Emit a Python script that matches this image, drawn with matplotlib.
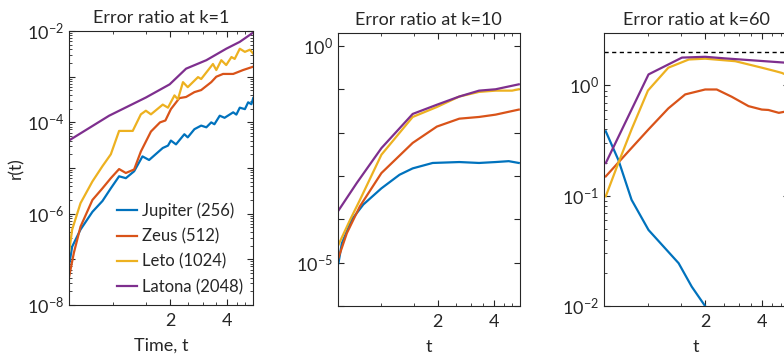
import numpy as np
import matplotlib
matplotlib.use('Agg')
import matplotlib.pyplot as plt
from matplotlib.ticker import FixedLocator, FuncFormatter, NullFormatter

plt.rcParams['font.family'] = ['Lato', 'DejaVu Sans']
plt.rcParams['mathtext.fontset'] = 'custom'
plt.rcParams['mathtext.rm'] = 'Lato'
plt.rcParams['mathtext.it'] = 'Lato:italic'
plt.rcParams['mathtext.bf'] = 'Lato:bold'

names = ['Jupiter (256)', 'Zeus (512)', 'Leto (1024)', 'Latona (2048)']
colors = ['#0072BD', '#D95319', '#EDB120', '#7E2F8E']

# k=1
t1_jup = [0.584, 0.608, 0.673, 0.778, 0.879, 0.973, 1.076, 1.168, 1.292, 1.43, 1.55, 1.83, 1.95, 2.02, 2.15,
          2.38, 2.48, 2.69, 2.92, 3.11, 3.30, 3.43, 3.66, 3.88, 4.31, 4.48, 4.67, 4.97, 5.17, 5.38, 5.5]
r1_jup = [6.9e-8, 1.9e-7, 4.5e-7, 1.1e-6, 1.9e-6, 3.6e-6, 6.6e-6, 6.0e-6, 8.5e-6, 1.8e-5, 1.5e-5, 2.75e-5, 3.1e-5,
          4.0e-5, 3.3e-5, 5.5e-5, 4.7e-5, 7.1e-5, 8.5e-5, 7.8e-5, 1.0e-4, 9.1e-5, 1.4e-4, 1.26e-4, 1.66e-4,
          1.48e-4, 2.1e-4, 1.95e-4, 2.75e-4, 2.5e-4, 3.4e-4]
t1_zeus = [0.584, 0.621, 0.673, 0.778, 0.879, 0.973, 1.076, 1.168, 1.292, 1.402, 1.585, 1.77, 1.89, 2.02, 2.24,
           2.43, 2.69, 2.92, 3.30, 3.51, 3.81, 4.31, 4.86, 5.5]
r1_zeus = [3.9e-8, 1.4e-7, 5.2e-7, 2.0e-6, 3.6e-6, 6.0e-6, 9.5e-6, 7.8e-6, 9.3e-6, 2.3e-5, 6.3e-5, 1.0e-4, 1.1e-4,
           1.95e-4, 3.4e-4, 3.6e-4, 4.6e-4, 5.1e-4, 7.6e-4, 1.0e-3, 1.15e-3, 1.15e-3, 1.4e-3, 1.66e-3]
t1_leto = [0.584, 0.608, 0.673, 0.778, 0.879, 0.973, 1.076, 1.27, 1.402, 1.49, 1.585, 1.83, 1.95, 2.11, 2.20,
           2.34, 2.48, 2.81, 2.92, 3.37, 3.51, 3.73, 3.96, 4.22, 4.39, 4.67, 4.97, 5.28, 5.5]
r1_leto = [1.3e-7, 4.5e-7, 1.7e-6, 5.1e-6, 1.1e-5, 2.0e-5, 6.5e-5, 6.5e-5, 1.5e-4, 1.8e-4, 1.5e-4, 2.45e-4, 2.1e-4,
           3.9e-4, 3.2e-4, 7.6e-4, 5.9e-4, 9.8e-4, 8.9e-4, 1.9e-3, 1.4e-3, 2.3e-3, 1.8e-3, 2.7e-3, 2.45e-3,
           4.1e-3, 3.5e-3, 3.9e-3, 3.2e-3]
t1_lat = [0.584, 0.953, 1.49, 1.99, 2.43, 3.11, 3.96, 4.67, 5.38, 5.5]
r1_lat = [4.0e-5, 1.4e-4, 3.5e-4, 6.8e-4, 1.5e-3, 2.3e-3, 4.1e-3, 5.8e-3, 8.7e-3, 9.3e-3]

# k=10
t2_jup = [0.589, 0.614, 0.693, 0.80, 1.0, 1.25, 1.47, 1.88, 2.61, 3.33, 4.08, 4.8, 5.43]
r2_jup = [9.8e-6, 2.8e-5, 9.8e-5, 2.2e-4, 5.2e-4, 1.07e-3, 1.5e-3, 2.0e-3, 2.1e-3, 2.0e-3, 2.1e-3, 2.2e-3, 2.0e-3]
t2_zeus = [0.589, 0.653, 0.767, 1.0, 1.47, 1.98, 2.61, 3.33, 4.08, 5.43]
r2_zeus = [1.3e-5, 4.8e-5, 2.0e-4, 1.17e-3, 5.8e-3, 1.38e-2, 2.1e-2, 2.3e-2, 2.6e-2, 3.4e-2]
t2_leto = [0.589, 0.68, 0.767, 1.0, 1.47, 1.98, 2.61, 3.33, 4.08, 5.0, 5.43]
r2_leto = [2.6e-5, 9.8e-5, 2.8e-4, 3.1e-3, 2.3e-2, 3.9e-2, 6.8e-2, 8.7e-2, 9.3e-2, 9.3e-2, 0.1]
t2_lat = [0.589, 0.738, 1.0, 1.47, 1.98, 2.61, 3.33, 4.08, 5.43]
r2_lat = [1.6e-4, 6.9e-4, 4.4e-3, 2.7e-2, 4.4e-2, 6.8e-2, 9.3e-2, 0.1, 0.13]

# k=60
t3_jup = [0.6, 0.70, 0.82, 1.007, 1.23, 1.45, 1.70, 2.0, 2.2]
r3_jup = [0.384, 0.21, 0.092, 0.049, 0.0335, 0.0245, 0.015, 0.01, 0.007]
t3_zeus = [0.6, 0.79, 1.007, 1.28, 1.57, 2.0, 2.3, 2.76, 3.38, 3.97, 4.3, 4.88, 5.28, 5.5]
r3_zeus = [0.15, 0.253, 0.40, 0.62, 0.83, 0.92, 0.92, 0.79, 0.65, 0.605, 0.6, 0.565, 0.58, 0.57]
t3_leto = [0.6, 0.7, 0.82, 1.0, 1.28, 1.64, 2.0, 2.88, 3.97, 4.67, 5.06, 5.28, 5.5]
r3_leto = [0.099, 0.2, 0.4, 0.9, 1.45, 1.72, 1.75, 1.66, 1.45, 1.35, 1.30, 1.26, 1.24]
t3_lat = [0.6, 1.007, 1.51, 2.0, 2.55, 5.28, 5.5]
r3_lat = [0.198, 1.26, 1.79, 1.82, 1.76, 1.61, 1.60]
r3_ref = 2.0

panels = [
    ('Error ratio at k=1', 'Time, t', [(t1_jup, r1_jup), (t1_zeus, r1_zeus), (t1_leto, r1_leto), (t1_lat, r1_lat)],
     (1e-8, 1e-2), [-8, -6, -4, -2], True),
    ('Error ratio at k=10', 't', [(t2_jup, r2_jup), (t2_zeus, r2_zeus), (t2_leto, r2_leto), (t2_lat, r2_lat)],
     (1e-6, 2), [-5, 0], False),
    ('Error ratio at k=60', 't', [(t3_jup, r3_jup), (t3_zeus, r3_zeus), (t3_leto, r3_leto), (t3_lat, r3_lat)],
     (1e-2, 3), [-2, -1, 0], True),
]
boxes = [[0.088, 0.155, 0.235, 0.759], [0.431, 0.152, 0.232, 0.757], [0.770, 0.152, 0.236, 0.757]]

ink = '#262626'
fig = plt.figure(figsize=(7.84, 3.61), dpi=100)

for i, (title, xlab, series, ylim, labelled, minor_y) in enumerate(panels):
    ax = fig.add_axes(boxes[i])
    for (t, r), c, nm in zip(series, colors, names):
        ax.plot(t, r, color=c, lw=1.6, label=nm)
    if i == 2:
        ax.axhline(r3_ref, color='k', ls='--', lw=1.0, dashes=(3, 2.5))
    ax.set_xscale('log')
    ax.set_yscale('log')
    ax.set_xlim(0.585, 5.5)
    ax.set_ylim(*ylim)

    ax.xaxis.set_major_locator(FixedLocator([2, 4]))
    ax.xaxis.set_major_formatter(FuncFormatter(lambda v, p: '%d' % v))
    ax.xaxis.set_minor_locator(FixedLocator([1, 1.5, 2.5, 3, 3.5, 4.5, 5]))
    ax.xaxis.set_minor_formatter(NullFormatter())

    lo, hi = int(np.floor(np.log10(ylim[0]))), int(np.ceil(np.log10(ylim[1])))
    decades = [10.0 ** d for d in range(lo, hi + 1)]
    ax.yaxis.set_major_locator(FixedLocator(decades))
    ax.yaxis.set_major_formatter(FuncFormatter(
        lambda v, p, lab=labelled: ('$10^{%d}$' % round(np.log10(v))) if round(np.log10(v)) in lab else ''))
    if minor_y:
        ax.yaxis.set_minor_locator(FixedLocator([m * 10.0 ** d for d in range(lo, hi + 1) for m in range(2, 10)]))
    else:
        ax.yaxis.set_minor_locator(FixedLocator([]))
    ax.yaxis.set_minor_formatter(NullFormatter())

    ax.tick_params(which='both', direction='in', top=True, right=True, colors=ink, labelsize=13)
    ax.tick_params(axis='x', which='major', pad=6)
    ax.tick_params(which='major', length=4.5, width=0.8)
    ax.tick_params(which='minor', length=2.5, width=0.6)
    for s in ax.spines.values():
        s.set_color(ink)
        s.set_linewidth(0.8)
    ax.set_title(title, fontsize=13, color=ink, pad=6)
    ax.set_xlabel(xlab, fontsize=13, color=ink, labelpad=6)
    if i == 0:
        ax.set_ylabel('r(t)', fontsize=12.5, color=ink, labelpad=2)
        ax.legend(loc='lower right', frameon=False, fontsize=12, handlelength=1.2, handletextpad=0.3,
                  labelspacing=0.55, borderaxespad=0.2, labelcolor=ink)

fig.savefig('out.png', dpi=100)
